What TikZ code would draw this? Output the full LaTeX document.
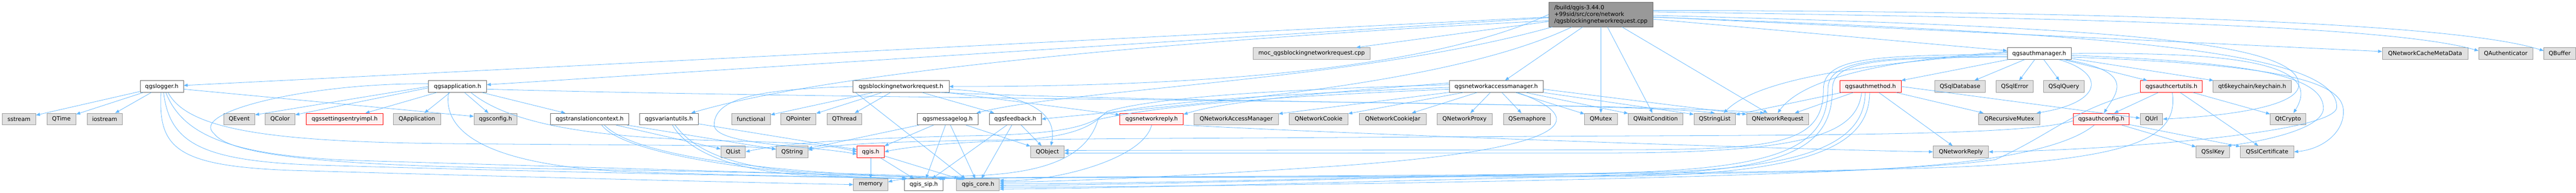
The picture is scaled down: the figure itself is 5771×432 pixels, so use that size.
\documentclass[tikz,border=0pt]{standalone}
\usepackage{fontspec}
\setmainfont{DejaVu Sans}
\usetikzlibrary{arrows.meta}
\definecolor{edgec}{HTML}{63B8FF}
\definecolor{gfill}{HTML}{E0E0E0}
\definecolor{gdraw}{HTML}{999999}
\definecolor{wdraw}{HTML}{666666}
\definecolor{rfill}{HTML}{FFF0F0}
\definecolor{rdraw}{HTML}{FF0000}
\definecolor{mfill}{HTML}{999999}
\tikzset{
 bx/.style={rectangle, draw, line width=1pt, minimum height=26pt, inner sep=0pt, font=\fontsize{12.8}{15}\selectfont, text=black},
 gbox/.style={bx, fill=gfill, draw=gdraw},
 wbox/.style={bx, fill=white, draw=wdraw},
 rbox/.style={bx, fill=rfill, draw=rdraw},
 mbox/.style={bx, fill=mfill, draw=wdraw, align=left, minimum height=55pt},
 ln/.style={draw=edgec, line width=0.9pt, -{Triangle[length=9pt,width=7pt]}},
}
\newcommand{\mynode}[5]{\node[#1, minimum width=#4pt] (#2) at (#3) {#5};}
\begin{document}
\begin{tikzpicture}[x=1pt,y=-1pt]
\fill[white] (0,0) rectangle (5771,432);
\useasboundingbox (0,0) rectangle (5771,432);
% rank 0
\mynode{mbox}{M}{3586.5,32.5}{233}{/build/qgis-3.44.0\\+99sid/src/core/network\\/qgsblockingnetworkrequest.cpp}
% rank 1
\mynode{gbox}{moc}{2938.5,120}{263}{moc\_qgsblockingnetworkrequest.cpp}
\mynode{wbox}{AM}{4568.5,120}{143}{qgsauthmanager.h}
\mynode{gbox}{QNCMD}{5433,120}{192}{QNetworkCacheMetaData}
\mynode{gbox}{QAuth}{5613.5,120}{121}{QAuthenticator}
\mynode{gbox}{QBuf}{5734.5,120}{71}{QBuffer}
% rank 2
\mynode{wbox}{log}{362.5,194}{97}{qgslogger.h}
\mynode{wbox}{app}{1025,194}{130}{qgsapplication.h}
\mynode{wbox}{bnr}{2018.5,194}{215}{qgsblockingnetworkrequest.h}
\mynode{wbox}{nam}{3352,194}{210}{qgsnetworkaccessmanager.h}
\mynode{rbox}{ameth}{4190.5,194}{137}{qgsauthmethod.h}
\mynode{gbox}{QSqlDb}{4391,194}{114}{QSqlDatabase}
\mynode{gbox}{QSqlErr}{4513.5,194}{83}{QSqlError}
\mynode{gbox}{QSqlQ}{4623.5,194}{91}{QSqlQuery}
\mynode{rbox}{acu}{4864.5,194}{139}{qgsauthcertutils.h}
\mynode{gbox}{kc}{5045.5,194}{175}{qt6keychain/keychain.h}
% rank 3
\mynode{gbox}{sstream}{42.5,267}{75}{sstream}
\mynode{gbox}{QTime}{137.5,267}{65}{QTime}
\mynode{gbox}{iostream}{234.5,267}{79}{iostream}
\mynode{gbox}{QEvent}{536,267}{70}{QEvent}
\mynode{gbox}{QColor}{627.5,267}{67}{QColor}
\mynode{rbox}{sei}{772,267}{172}{qgssettingsentryimpl.h}
\mynode{gbox}{QApp}{934,267}{106}{QApplication}
\mynode{gbox}{cfg}{1110,267}{96}{qgsconfig.h}
\mynode{wbox}{tc}{1321,267}{176}{qgstranslationcontext.h}
\mynode{wbox}{vu}{1498.5,267}{131}{qgsvariantutils.h}
\mynode{gbox}{func}{1682.5,267}{87}{functional}
\mynode{gbox}{QPtr}{1788.5,267}{79}{QPointer}
\mynode{gbox}{QThr}{1891.5,267}{77}{QThread}
\mynode{wbox}{ml}{2123,267}{136}{qgsmessagelog.h}
\mynode{wbox}{fb}{2274.5,267}{117}{qgsfeedback.h}
\mynode{rbox}{nr}{2580,267}{142}{qgsnetworkreply.h}
\mynode{gbox}{QNAM}{2769.5,267}{189}{QNetworkAccessManager}
\mynode{gbox}{QNC}{2954,267}{132}{QNetworkCookie}
\mynode{gbox}{QNCJ}{3120,267}{150}{QNetworkCookieJar}
\mynode{gbox}{QNP}{3281,267}{124}{QNetworkProxy}
\mynode{gbox}{QSem}{3421,267}{106}{QSemaphore}
\mynode{gbox}{QMtx}{3586.5,267}{73}{QMutex}
\mynode{gbox}{QWC}{3709,267}{122}{QWaitCondition}
\mynode{gbox}{QSL}{3841.5,267}{93}{QStringList}
\mynode{gbox}{QNReq}{3982.5,267}{139}{QNetworkRequest}
\mynode{gbox}{QRM}{4501,267}{138}{QRecursiveMutex}
\mynode{rbox}{ac}{4707.5,267}{125}{qgsauthconfig.h}
\mynode{gbox}{QUrl}{4820,267}{50}{QUrl}
\mynode{gbox}{QtCr}{5126,267}{80}{QtCrypto}
% rank 4
\mynode{gbox}{QList}{1642.5,340.5}{55}{QList}
\mynode{gbox}{QStr}{1774.5,340.5}{71}{QString}
\mynode{rbox}{qgis}{1950.5,340.5}{61}{qgis.h}
\mynode{gbox}{QObj}{2346.5,340.5}{75}{QObject}
\mynode{gbox}{QNRep}{4393,340.5}{124}{QNetworkReply}
\mynode{gbox}{QSK}{4957.5,340.5}{75}{QSslKey}
\mynode{gbox}{QSC}{5079,340.5}{120}{QSslCertificate}
% rank 5
\mynode{gbox}{mem}{1950.5,414}{77}{memory}
\mynode{wbox}{sip}{2069.5,414}{87}{qgis\_sip.h}
\mynode{gbox}{core}{2191,414}{96}{qgis\_core.h}

% ---- main file
\draw[ln] (M) -- (moc);
\draw[ln] (M) -- (log);
\draw[ln] (M) -- (app);
\draw[ln] (M.west) .. controls (3150,180) and (2500,194) .. (bnr.east);
\draw[ln] (M) -- (nam);
\draw[ln] (M) -- (AM);
\draw[ln] ([xshift=8pt]M.south west) .. controls (3050,180) and (2400,200) .. ([xshift=-4pt]ml.north east);
\draw[ln] ([xshift=52pt]M.south west) .. controls (3250,190) and (2700,230) .. (fb.east);
\draw[ln] ([yshift=-14pt]M.west) .. controls (2800,80) and (1900,150) .. ([xshift=-16pt]vu.north east);
\draw[ln] (M) -- (QMtx);
\draw[ln] (M) -- (QWC);
\draw[ln] (M) -- (QNReq);
\draw[ln] (M) -- (QNCMD);
\draw[ln] ([yshift=6pt]M.east) .. controls (4600,40) and (5350,55) .. ([yshift=6pt]QAuth.west);
\draw[ln] ([yshift=9pt]M.east) .. controls (4700,25) and (5500,50) .. ([yshift=6pt]QBuf.west);
\draw[ln] ([yshift=-2pt]M.east) .. controls (4700,60) and (5150,90) .. (5150,190) .. controls (5150,245) and (4950,262) .. (QUrl.east);
\draw[ln] ([yshift=-6pt]M.east) .. controls (4700,75) and (5235,110) .. (5235,240) .. controls (5235,300) and (4700,338) .. (QNRep.east);

% ---- qgsauthmanager.h
\draw[ln] (AM) -- (ameth);
\draw[ln] (AM) -- (QSqlDb);
\draw[ln] (AM) -- (QSqlErr);
\draw[ln] (AM) -- (QSqlQ);
\draw[ln] (AM) -- (acu);
\draw[ln] (AM) -- (kc);
\draw[ln] ([xshift=-28pt]AM.south east) .. controls (4720,165) and (4710,230) .. ([xshift=-8pt]QRM.north east);
\draw[ln] ([xshift=-16pt]AM.south east) .. controls (4790,160) and (4740,210) .. ([xshift=6pt]ac.north);
\draw[ln] (AM.east) .. controls (4950,118) and (5215,130) .. ([xshift=12pt]QtCr.north);
\draw[ln] ([yshift=-4pt]AM.east) .. controls (5050,140) and (5200,170) .. (5205,240) .. controls (5210,290) and (5060,318) .. ([xshift=-6pt]QSK.north east);
\draw[ln] ([yshift=-8pt]AM.east) .. controls (5100,145) and (5250,180) .. (5250,250) .. controls (5250,300) and (5200,335) .. (QSC.east);
\draw[ln] ([yshift=4pt]AM.west) .. controls (4300,130) and (4050,160) .. (QNReq.north);
\draw[ln] ([yshift=2pt]AM.west) .. controls (4250,140) and (3950,165) .. ([xshift=20pt]QSL.north);
\draw[ln] ([yshift=-2pt]AM.west) .. controls (4200,124) and (4085,128) .. (4085,200) .. controls (4085,340) and (3950,336) .. (3500,336) -- ([yshift=3pt]QObj.east);
\draw[ln] ([yshift=-6pt]AM.west) .. controls (4210,128) and (4095,132) .. (4095,200) .. controls (4095,350) and (3950,385) .. (3500,390) .. controls (3000,398) and (2600,412) .. ([yshift=2pt]core.east);
\draw[ln] ([yshift=-8pt]AM.west) .. controls (4215,130) and (4105,134) .. (4105,200) .. controls (4105,360) and (3950,392) .. (3500,394) .. controls (2800,396) and (2300,396) .. ([xshift=-6pt]sip.north east);

% ---- qgsauthmethod.h
\draw[ln] (ameth) -- (QNReq);
\draw[ln] (ameth) -- (QRM);
\draw[ln] (ameth.east) -- ([yshift=2pt]QUrl.west);
\draw[ln] (ameth) -- (QNRep);
\draw[ln] (ameth) -- (QSL);
\draw[ln] ([xshift=-20pt]ameth.south) .. controls (4160,300) and (4050,343) .. (3600,343) -- ([yshift=-3pt]QObj.east);
\draw[ln] ([xshift=-12pt]ameth.south) .. controls (4178,320) and (4050,378) .. (3700,386) .. controls (3100,398) and (2600,414) .. ([yshift=-2pt]core.east);
\draw[ln] ([xshift=-2pt]ameth.south) .. controls (4188,330) and (4050,392) .. (3600,396) .. controls (2900,398) and (2300,397) .. ([xshift=-10pt]sip.north east);

% ---- qgsauthcertutils.h
\draw[ln] (acu) -- (ac);
\draw[ln] (acu) -- (QtCr);
\draw[ln] (acu) -- (QSC);
\draw[ln] (acu.south west) .. controls (4650,240) and (4600,300) .. (4470,358) .. controls (4200,400) and (2800,418) .. ([yshift=-6pt]core.east);
\draw[ln] ([xshift=2pt]acu.south) .. controls (4880,300) and (4800,345) .. (4500,368) .. controls (4200,392) and (2800,394) .. ([xshift=-14pt]sip.north east);

% ---- qgsauthconfig.h
\draw[ln] (ac) -- (QSK);
\draw[ln] (ac) -- (QSC);
\draw[ln] ([xshift=-16pt]ac.south) .. controls (4620,340) and (4400,380) .. (4000,386) .. controls (3400,396) and (2700,420) .. ([yshift=-10pt]core.east);
\draw[ln] ([yshift=-4pt]ac.west) .. controls (4550,300) and (4200,303) .. (3600,305) -- (2500,311) .. controls (2100,315) and (1900,318) .. ([yshift=4pt]QStr.east);

% ---- qgsnetworkreply.h
\draw[ln] (nr.south east) .. controls (3000,300) and (4000,335) .. (QNRep.west);
\draw[ln] (nr.south) .. controls (2560,360) and (2350,410) .. ([yshift=10pt]core.east);

% ---- qgsnetworkaccessmanager.h
\draw[ln] (nam) -- (QNC);
\draw[ln] (nam) -- (QNAM);
\draw[ln] (nam) -- (QNCJ);
\draw[ln] (nam) -- (QNP);
\draw[ln] (nam) -- (QSem);
\draw[ln] (nam) -- (QMtx);
\draw[ln] (nam) -- (QWC);
\draw[ln] (nam.south east) -- ([yshift=-3pt]QSL.north west);
\draw[ln] ([yshift=-6pt]nam.east) -- ([yshift=-3pt]QNReq.north west);
\draw[ln] ([yshift=8pt]nam.west) .. controls (3000,205) and (2750,225) .. ([yshift=-3pt]nr.north east);
\draw[ln] ([yshift=4pt]nam.west) .. controls (2900,200) and (2600,215) .. (2480,250) .. controls (2440,290) and (2350,300) .. (2200,304) .. controls (1900,310) and (1750,322) .. (QList.east);
\draw[ln] ([yshift=-2pt]nam.west) .. controls (2900,210) and (2600,225) .. (2470,258) .. controls (2430,300) and (2350,314) .. (2200,318) .. controls (2100,322) and (2020,332) .. (qgis.east);
\draw[ln] ([yshift=-6pt]nam.west) .. controls (2900,215) and (2620,232) .. (2460,268) .. controls (2430,370) and (2300,392) .. (2150,395) .. controls (2080,397) and (2020,400) .. ([yshift=6pt]mem.east);
\draw[ln] ([xshift=48pt]nam.south) .. controls (3600,280) and (3450,340) .. (3000,372) .. controls (2700,392) and (2400,408) .. ([yshift=6pt]core.east);

% ---- qgsblockingnetworkrequest.h
\draw[ln] (bnr) -- (func);
\draw[ln] (bnr) -- (QPtr);
\draw[ln] (bnr) -- (QThr);
\draw[ln] (bnr) -- (fb);
\draw[ln] (bnr) -- (nr);
\draw[ln] ([yshift=-6pt]bnr.east) .. controls (2300,210) and (2370,250) .. ([xshift=8pt]QObj.north);
\draw[ln] ([xshift=6pt]bnr.south west) -- ([xshift=20pt]core.north west);
\draw[ln] ([xshift=-20pt]bnr.south east) .. controls (2700,232) and (3700,232) .. ([xshift=-30pt]QNReq.north);
\draw[ln] (bnr.west) .. controls (1700,200) and (1600,220) .. (1600,280) .. controls (1600,325) and (1800,325) .. ([yshift=-5pt]qgis.west);

% ---- qgsmessagelog.h
\draw[ln] (ml) -- (QObj);
\draw[ln] (ml) -- (core);
\draw[ln] (ml) -- (sip);
\draw[ln] (ml) -- (qgis);
\draw[ln] (ml) -- (QStr);

% ---- qgsfeedback.h
\draw[ln] (fb) -- (QObj);
\draw[ln] (fb) -- (sip);
\draw[ln] (fb) -- (core);

% ---- qgis.h
\draw[ln] (qgis) -- (mem);
\draw[ln] (qgis) -- (sip);
\draw[ln] (qgis) -- (core);

% ---- qgsvariantutils.h
\draw[ln] (vu) -- (qgis);
\draw[ln] ([xshift=8pt]vu.south) .. controls (1540,340) and (1650,390) .. (1850,395) .. controls (1950,397) and (2000,399) .. ([xshift=5pt]sip.north west);
\draw[ln] ([xshift=14pt]vu.south) .. controls (1560,345) and (1660,382) .. (1850,388) .. controls (2000,392) and (2100,396) .. ([xshift=10pt]core.north west);

% ---- qgstranslationcontext.h
\draw[ln] (tc) -- (QList);
\draw[ln] (tc) -- (QStr);
\draw[ln] ([xshift=27pt]tc.south) .. controls (1400,350) and (1750,395) .. ([xshift=6pt]sip.north west);
\draw[ln] ([xshift=33pt]tc.south) .. controls (1430,360) and (1800,392) .. ([xshift=14pt]core.north west);

% ---- qgsapplication.h
\draw[ln] (app.west) -- ([yshift=-4pt]QEvent.north east);
\draw[ln] ([yshift=-3pt]app.west) -- ([yshift=-4pt]QColor.north east);
\draw[ln] (app) -- (sei);
\draw[ln] (app) -- (QApp);
\draw[ln] (app) -- (cfg);
\draw[ln] (app) -- (tc);
\draw[ln] ([yshift=-6pt]app.east) .. controls (2000,225) and (3600,225) .. (QSL.north);
\draw[ln] ([xshift=30pt]app.south) .. controls (1180,310) and (1500,312) .. (1700,318) .. controls (1820,321) and (1880,330) .. (qgis.west);
\draw[ln] ([yshift=6pt]app.west) .. controls (700,185) and (420,250) .. (480,300) .. controls (520,355) and (800,372) .. (1200,378) .. controls (1700,386) and (2000,394) .. ([xshift=18pt]core.north west);
\draw[ln] ([xshift=-20pt]app.south) .. controls (990,300) and (1100,370) .. (1400,385) .. controls (1700,395) and (1950,398) .. ([xshift=4pt]sip.north west);

% ---- qgslogger.h
\draw[ln] (log) -- (sstream);
\draw[ln] (log) -- (QTime);
\draw[ln] (log) -- (iostream);
\draw[ln] ([yshift=-6pt]log.east) -- ([yshift=6pt]cfg.west);
\draw[ln] ([xshift=14pt]log.south) .. controls (420,290) and (600,318) .. (1000,322) .. controls (1400,326) and (1650,324) .. ([yshift=6pt]QStr.west);
\draw[ln] ([xshift=-2pt]log.south) .. controls (355,330) and (390,372) .. (650,382) .. controls (1200,398) and (1700,410) .. (mem.west);
\draw[ln] ([xshift=4pt]log.south) .. controls (380,320) and (450,360) .. (700,370) .. controls (1300,388) and (1800,396) .. ([xshift=8pt]sip.north west);
\draw[ln] ([xshift=9pt]log.south) .. controls (410,305) and (520,350) .. (800,360) .. controls (1400,378) and (1900,392) .. ([xshift=22pt]core.north west);
\end{tikzpicture}
\end{document}
